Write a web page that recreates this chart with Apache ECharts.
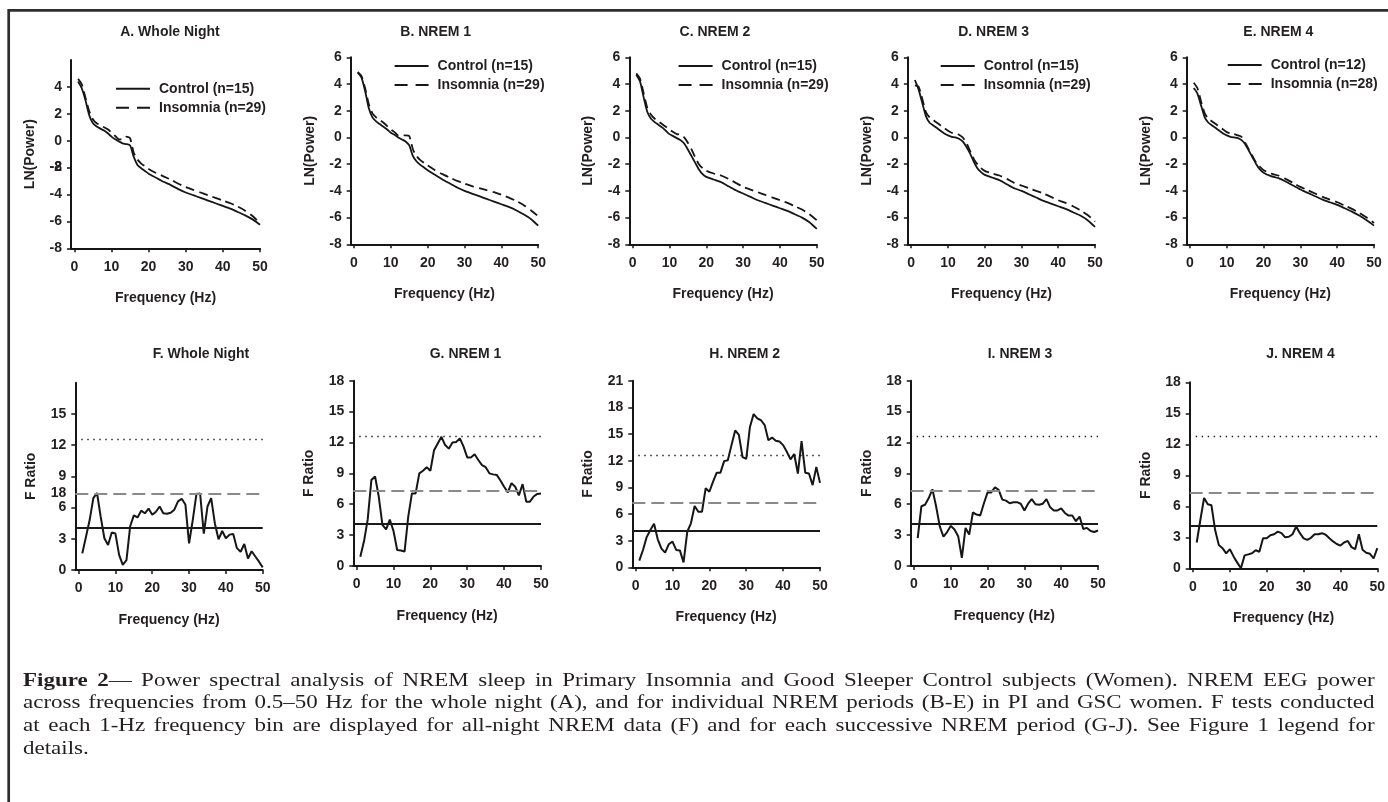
<!DOCTYPE html>
<html><head><meta charset="utf-8">
<script src="https://cdn.jsdelivr.net/npm/echarts@6/dist/echarts.min.js"></script>
<style>
html,body{margin:0;padding:0;background:#fff;}
#chart{position:absolute;left:0;top:0;width:1388px;height:802px;}
#cap{position:absolute;left:22.8px;top:668.5px;width:1117px;transform:scaleX(1.21);transform-origin:0 0;font-family:'Liberation Serif','Times New Roman',serif;font-size:19px;line-height:22.7px;color:#231f20;}
#cap .j{text-align:justify;text-align-last:justify;}
</style>
</head><body>
<div id="chart"></div>
<div id="cap">
<div class="j"><b>Figure 2</b>— Power spectral analysis of NREM sleep in Primary Insomnia and Good Sleeper Control subjects (Women). NREM EEG power</div>
<div class="j">across frequencies from 0.5–50 Hz for the whole night (A), and for individual NREM periods (B-E) in PI and GSC women. F tests conducted</div>
<div class="j">at each 1-Hz frequency bin are displayed for all-night NREM data (F) and for each successive NREM period (G-J). See Figure 1 legend for</div>
<div>details.</div>
</div>
<script>
// ---------- DATA ----------
const topFreq = [1,2,3,4,5,6,7,8,9,10,11,12,13,14,15,16,17,18,19,20,22,24,26,28,30,32,34,36,38,40,42,44,46,48,50];
const ctrlA = [4.4,3.9,3.0,1.9,1.3,1.05,0.9,0.75,0.55,0.3,0.1,-0.05,-0.2,-0.25,-0.35,-1.2,-1.8,-2.05,-2.25,-2.45,-2.75,-3.05,-3.3,-3.6,-3.85,-4.05,-4.25,-4.45,-4.65,-4.85,-5.05,-5.3,-5.55,-5.85,-6.25];
const insA  = [4.6,4.2,3.2,2.2,1.6,1.3,1.15,1.0,0.85,0.6,0.35,0.1,0.1,0.3,0.2,-0.9,-1.4,-1.7,-1.9,-2.1,-2.4,-2.65,-2.9,-3.2,-3.45,-3.65,-3.85,-4.05,-4.25,-4.45,-4.65,-4.9,-5.2,-5.6,-6.15];
const ctrlB = [4.85,4.5,3.5,2.2,1.5,1.2,1.0,0.8,0.6,0.35,0.2,0.0,-0.15,-0.3,-0.6,-1.4,-1.8,-2.05,-2.25,-2.45,-2.8,-3.15,-3.45,-3.75,-4.0,-4.2,-4.4,-4.6,-4.8,-5.0,-5.2,-5.45,-5.75,-6.1,-6.6];
const insB  = [4.9,4.6,3.7,2.5,1.8,1.5,1.3,1.1,0.85,0.6,0.4,0.15,0.15,0.15,0.1,-0.9,-1.4,-1.7,-1.9,-2.1,-2.45,-2.75,-3.0,-3.25,-3.45,-3.65,-3.8,-3.95,-4.1,-4.3,-4.5,-4.75,-5.05,-5.45,-5.9];
const ctrlC = [4.7,4.2,3.0,1.9,1.4,1.15,0.95,0.75,0.5,0.25,0.1,-0.05,-0.2,-0.45,-0.9,-1.4,-1.9,-2.4,-2.75,-2.95,-3.15,-3.35,-3.65,-3.95,-4.2,-4.45,-4.7,-4.9,-5.1,-5.3,-5.5,-5.75,-6.0,-6.35,-6.85];
const insC  = [4.8,4.4,3.3,2.2,1.7,1.4,1.2,1.0,0.8,0.6,0.4,0.25,0.2,0.0,-0.4,-0.9,-1.5,-2.0,-2.3,-2.5,-2.7,-2.85,-3.1,-3.4,-3.7,-3.9,-4.1,-4.3,-4.5,-4.7,-4.9,-5.15,-5.4,-5.75,-6.2];
const ctrlD = [4.3,3.6,2.6,1.6,1.1,0.9,0.7,0.5,0.3,0.15,0.05,0.0,-0.1,-0.3,-0.7,-1.2,-1.8,-2.3,-2.6,-2.8,-3.0,-3.2,-3.5,-3.8,-4.0,-4.25,-4.5,-4.75,-4.95,-5.15,-5.35,-5.6,-5.85,-6.2,-6.7];
const insD  = [3.9,3.8,2.9,1.9,1.5,1.3,1.1,0.9,0.7,0.5,0.35,0.3,0.2,0.0,-0.4,-1.0,-1.6,-2.0,-2.3,-2.5,-2.7,-2.85,-3.1,-3.4,-3.6,-3.8,-4.0,-4.2,-4.45,-4.7,-4.9,-5.15,-5.45,-5.8,-6.3];
const ctrlE = [3.7,3.3,2.4,1.5,1.1,0.9,0.7,0.5,0.3,0.15,0.05,0.0,-0.05,-0.2,-0.5,-1.0,-1.5,-2.0,-2.4,-2.65,-2.9,-3.05,-3.3,-3.6,-3.9,-4.15,-4.4,-4.65,-4.85,-5.05,-5.3,-5.55,-5.85,-6.2,-6.6];
const insE  = [4.1,3.7,2.7,1.8,1.4,1.2,1.0,0.8,0.6,0.4,0.3,0.25,0.15,0.05,-0.4,-0.9,-1.4,-1.9,-2.2,-2.45,-2.7,-2.85,-3.1,-3.4,-3.7,-3.95,-4.2,-4.45,-4.65,-4.85,-5.1,-5.35,-5.65,-6.0,-6.4];

const topTitles = ['A. Whole Night','B. NREM 1','C. NREM 2','D. NREM 3','E. NREM 4'];
const ctrlNames = ['Control (n=15)','Control (n=15)','Control (n=15)','Control (n=15)','Control (n=12)'];
const insNames  = ['Insomnia (n=29)','Insomnia (n=29)','Insomnia (n=29)','Insomnia (n=29)','Insomnia (n=28)'];
const powerRange = [-8, 6, 2];
const freqTicks = [0,10,20,30,40,50];

const fFreq = [1,2,3,4,5,6,7,8,9,10,11,12,13,14,15,16,17,18,19,20,21,22,23,24,25,26,27,28,29,30,31,32,33,34,35,36,37,38,39,40,41,42,43,44,45,46,47,48,49,50];
const fF = [1.6,3.2,4.8,6.9,7.4,5.1,3.05,2.4,3.6,3.5,1.45,0.5,0.95,4.2,5.25,5.05,5.7,5.45,5.9,5.3,5.6,6.1,5.45,5.4,5.5,5.8,6.6,6.85,6.3,2.55,4.8,7.3,7.35,3.5,6.1,6.9,4.5,2.95,3.75,3.05,3.4,3.45,2.1,1.75,2.5,1.1,1.8,1.3,0.8,0.25];
const fG = [0.9,2.4,4.5,8.35,8.7,6.75,4.0,3.55,4.5,3.4,1.55,1.5,1.4,4.8,7.05,7.05,9.0,9.25,9.6,9.25,11.25,11.9,12.55,11.75,11.4,12.0,12.05,12.4,11.6,10.55,10.55,10.85,10.3,9.8,9.6,9.0,8.9,8.85,8.3,7.7,7.15,8.05,7.7,6.85,7.95,6.25,6.25,6.75,7.0,7.05];
const fH = [0.75,1.95,3.4,4.2,4.9,3.15,2.1,1.65,2.6,2.9,1.95,1.9,0.55,4.0,4.95,6.9,6.25,6.25,8.9,8.5,9.65,10.65,10.65,11.95,12.05,13.75,15.4,14.9,12.4,12.2,15.8,17.25,16.75,16.55,16.0,14.3,14.6,14.25,14.15,13.75,13.0,12.15,12.75,10.55,14.2,10.65,10.55,9.25,11.3,9.5];
const fI = [2.7,5.8,5.95,6.6,7.45,5.8,3.85,2.85,3.3,3.9,3.55,2.9,0.8,3.7,3.05,5.2,5.0,4.9,6.1,7.15,7.15,7.65,7.4,6.45,6.35,6.1,6.2,6.2,6.05,5.4,6.05,6.5,6.0,5.95,6.05,6.5,5.7,5.4,5.4,5.6,5.15,4.9,4.9,4.35,4.8,3.6,3.7,3.4,3.3,3.45];
const fJ = [2.5,4.7,6.8,6.2,6.1,3.7,2.25,1.95,1.45,1.85,1.15,0.55,0.0,1.25,1.35,1.45,1.75,1.6,2.9,2.9,3.2,3.3,3.55,3.4,3.0,3.05,3.3,4.05,3.4,2.9,2.75,2.95,3.3,3.3,3.4,3.25,2.9,2.6,2.35,2.2,2.5,2.65,2.05,1.85,3.3,1.8,1.5,1.4,0.95,1.95];
const botTitles = ['F. Whole Night','G. NREM 1','H. NREM 2','I. NREM 3','J. NREM 4'];
const critFGHI = [4.07, 7.28, 12.6];
const critJ = [4.10, 7.35, 12.75];
const fMax = [18, 18, 21, 18, 18];

// ---------- LAYOUT / STYLE ----------
const FONT = "'Liberation Sans', Arial, sans-serif";
const TXT = '#231f20';
const INK = '#161616';
const topGrids = [[71,60,189,188.3],[350.7,57.3,187.5,187],[629.3,57.3,187.5,187],[907.9,57.3,187.1,187],[1186.7,57.3,187.3,187]];
const botGrids = [[75.3,382.7,187.4,187.3],[353.3,380.7,187.7,185.3],[632.3,380.7,187.7,186.6],[910.7,380.7,187.3,185.3],[1189.7,382.3,187.6,186]];
const topTitleX = [170,435.7,715,993.6,1278.3];
const botTitleX = [201,465.5,744.7,1020,1300.5];
const legendPos = [[116,81.7],[394.6,59],[678.6,59],[940.7,59],[1227.7,58]];

const lbl = {color: TXT, fontSize: 14, fontWeight: 'bold', fontFamily: FONT};
const grids = [], xAxes = [], yAxes = [], series = [], legends = [], graphics = [];

function mkX(gi) {
  return {
    type: 'value', gridIndex: gi, min: -0.9, max: 50,
    axisLine: {show: true, onZero: false, lineStyle: {color: INK, width: 2}},
    axisTick: {show: true, length: 4, customValues: freqTicks, lineStyle: {color: INK, width: 1.5}},
    axisLabel: Object.assign({customValues: freqTicks, margin: 11.5}, lbl),
    splitLine: {show: false},
    name: 'Frequency (Hz)', nameLocation: 'middle', nameGap: 43, nameTextStyle: lbl
  };
}
function mkY(gi, min, max, interval, name, gap, hideMax) {
  return {
    type: 'value', gridIndex: gi, position: 'left', min: min, max: max, interval: interval,
    axisLine: {show: true, onZero: false, lineStyle: {color: INK, width: 2}},
    axisTick: {show: true, length: 4, lineStyle: {color: INK, width: 1.5}},
    axisLabel: Object.assign({margin: 9, showMaxLabel: !hideMax}, lbl),
    splitLine: {show: false},
    name: name, nameLocation: 'middle', nameGap: gap, nameRotate: 90, nameTextStyle: lbl
  };
}
const pairs = (xs, ys) => xs.map((x, j) => [x, ys[j]]);

const ctrlSets = [ctrlA, ctrlB, ctrlC, ctrlD, ctrlE];
const insSets = [insA, insB, insC, insD, insE];
topGrids.forEach((g, i) => {
  grids.push({left: g[0], top: g[1], width: g[2], height: g[3], containLabel: false, outerBoundsMode: 'none'});
  xAxes.push(mkX(i));
  yAxes.push(mkY(i, powerRange[0], powerRange[1], powerRange[2], 'LN(Power)', 34, i === 0));
  series.push({type: 'line', name: ctrlNames[i], xAxisIndex: i, yAxisIndex: i, data: pairs(topFreq, ctrlSets[i]),
    symbol: 'none', smooth: 0.2, lineStyle: {color: INK, width: 1.8, type: 'solid'}, itemStyle: {color: INK}, z: 3});
  series.push({type: 'line', name: insNames[i], xAxisIndex: i, yAxisIndex: i, data: pairs(topFreq, insSets[i]),
    symbol: 'none', smooth: 0.2, lineStyle: {color: INK, width: 1.8, type: [9, 5]}, itemStyle: {color: INK}, z: 3});
  legends.push({
    orient: 'vertical', left: legendPos[i][0], top: legendPos[i][1], padding: 0, itemGap: 5,
    itemWidth: 34, itemHeight: 14, selectedMode: false, symbolKeepAspect: true,
    textStyle: Object.assign({padding: [0, 0, 0, 4]}, lbl),
    data: [
      {name: ctrlNames[i], icon: 'path://M0,0h34v2h-34z', itemStyle: {color: INK, borderWidth: 0}},
      {name: insNames[i], icon: 'path://M0,0h13v2h-13z M21,0h13v2h-13z', itemStyle: {color: INK, borderWidth: 0}}
    ]
  });
  graphics.push({type: 'text', x: topTitleX[i], y: 32.3, silent: true,
    style: {text: topTitles[i], font: "bold 14px " + FONT, fill: TXT, align: 'center', verticalAlign: 'middle'}});
});

const fSets = [fF, fG, fH, fI, fJ];
const critSets = [critFGHI, critFGHI, critFGHI, critFGHI, critJ];
const critStyles = [
  {color: '#1a1a1a', width: 2, type: 'solid'},
  {color: '#8a8a8a', width: 1.8, type: [13, 6]},
  {color: '#1a1a1a', width: 1.4, type: [1.4, 4.6]}
];
botGrids.forEach((g, k) => {
  const i = k + 5;
  grids.push({left: g[0], top: g[1], width: g[2], height: g[3], containLabel: false, outerBoundsMode: 'none'});
  xAxes.push(mkX(i));
  yAxes.push(mkY(i, 0, fMax[k], 3, 'F Ratio', 37, k === 0));
  series.push({type: 'line', name: botTitles[k], xAxisIndex: i, yAxisIndex: i, data: pairs(fFreq, fSets[k]),
    symbol: 'none', lineStyle: {color: INK, width: 2}, itemStyle: {color: INK}, z: 4,
    markLine: {silent: true, symbol: ['none', 'none'], label: {show: false}, animation: false,
      data: critSets[k].map((v, j) => ({yAxis: v, lineStyle: critStyles[j]}))}});
  graphics.push({type: 'text', x: botTitleX[k], y: 354.3, silent: true,
    style: {text: botTitles[k], font: "bold 14px " + FONT, fill: TXT, align: 'center', verticalAlign: 'middle'}});
});

// overprinted labels in the original (A: "-8" over "-2"; F: "18" at the dashed line)
function overLabel(gi, min, max, at, txt) {
  return {type: 'value', gridIndex: gi, position: 'left', min: min, max: max,
    axisLine: {show: false}, axisTick: {show: false}, splitLine: {show: false},
    axisLabel: Object.assign({margin: 9, customValues: [at], formatter: () => txt}, lbl)};
}
yAxes.push(overLabel(0, -8, 6, -2, '-8'));
yAxes.push(overLabel(5, 0, 18, 7.35, '18'));

graphics.push({type: 'polyline', silent: true, shape: {points: [[8.7, 830], [8.7, 10.3], [1400, 10.3]]},
  style: {stroke: '#2e2e2e', lineWidth: 2.7, fill: null}});

const chart = echarts.init(document.getElementById('chart'), null, {renderer: 'canvas'});
chart.setOption({
  animation: false,
  backgroundColor: '#fff',
  grid: grids, xAxis: xAxes, yAxis: yAxes, series: series, legend: legends, graphic: graphics
});
</script>
</body></html>
